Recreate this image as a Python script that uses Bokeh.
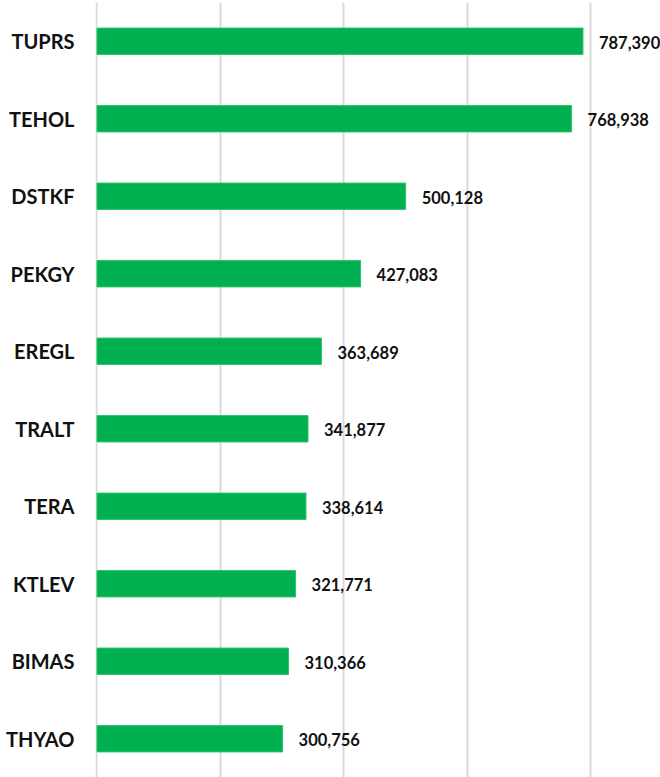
from bokeh.plotting import figure
from bokeh.models import ColumnDataSource, FixedTicker, Range1d
from bokeh.core.properties import value
from bokeh.embed import file_html
from bokeh.resources import INLINE

categories = ["TUPRS", "TEHOL", "DSTKF", "PEKGY", "EREGL", "TRALT", "TERA", "KTLEV", "BIMAS", "THYAO"]
values = [787390, 768938, 500128, 427083, 363689, 341877, 338614, 321771, 310366, 300756]
grid_ticks = [0, 200000, 400000, 600000, 800000]

labels = [f"{v:,}" for v in values]
source = ColumnDataSource(data=dict(cat=categories, val=values, lab=labels))

p = figure(
    y_range=list(reversed(categories)),
    x_range=Range1d(-2400, 913000),
    width=660, height=777,
    output_backend="svg", toolbar_location=None,
    min_border_left=95, min_border_right=0, min_border_top=2, min_border_bottom=0,
)
p.outline_line_color = None
p.background_fill_color = "white"
p.border_fill_color = "white"

p.hbar(y="cat", right="val", left=0, height=0.34, source=source,
       fill_color="#00b050", line_color="#2fc26a", line_width=1)

p.text(x="val", y="cat", text="lab", source=source, x_offset=16, y_offset=1,
       text_font=value("Lato"), text_font_style="bold", text_font_size="16.5px",
       text_color="#111111", text_baseline="middle", text_align="left")

p.xaxis.visible = False
p.xgrid.ticker = FixedTicker(ticks=grid_ticks)
p.xgrid.grid_line_color = "#d9d9d9"
p.xgrid.grid_line_width = 2
p.ygrid.grid_line_color = None

ax = p.yaxis[0]
ax.axis_line_color = None
ax.major_tick_line_color = None
ax.minor_tick_line_color = None
ax.major_tick_out = 0
ax.major_tick_in = 0
ax.major_label_standoff = 21
ax.major_label_text_font = "Lato"
ax.major_label_text_font_style = "bold"
ax.major_label_text_font_size = "20px"
ax.major_label_text_color = "#111111"

open("out.html", "w").write(file_html(p, INLINE))
